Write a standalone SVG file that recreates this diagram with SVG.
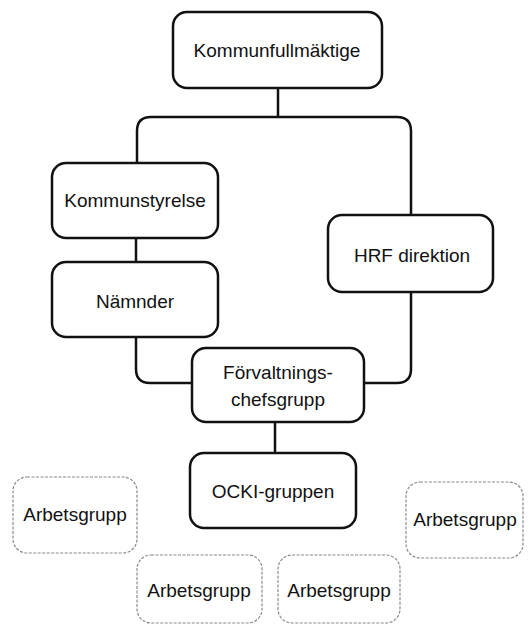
<svg xmlns="http://www.w3.org/2000/svg" width="529" height="627" viewBox="0 0 529 627">
<style>
.n{fill:#fff;stroke:#111;stroke-width:2.5}
.d{fill:#fff;stroke:#8a8a8a;stroke-width:1.2;stroke-dasharray:3 1.5}
.c{fill:none;stroke:#111;stroke-width:2.5}
text{font-family:"Liberation Sans",Arial,sans-serif;font-size:19px;fill:#111;text-anchor:middle}
</style>
<rect width="529" height="627" fill="#fff"/>
<g id="connectors">
<path class="c" d="M278,88 V117"/>
<path class="c" d="M137,163 V131 Q137,117 151,117 H397 Q411,117 411,131 V215"/>
<path class="c" d="M136,238 V262"/>
<path class="c" d="M136,337 V369 Q136,383 150,383 H192"/>
<path class="c" d="M411,292 V369 Q411,383 397,383 H364"/>
<path class="c" d="M275,422 V453"/>
</g>
<g id="kommunfullmaktige">
<rect class="n" x="173" y="12" width="209" height="76" rx="14"/>
<text x="277" y="57">Kommunfullmäktige</text>
</g>
<g id="kommunstyrelse">
<rect class="n" x="52" y="163" width="166" height="75" rx="14"/>
<text x="135" y="207">Kommunstyrelse</text>
</g>
<g id="namnder">
<rect class="n" x="52" y="262" width="166" height="75" rx="14"/>
<text x="135" y="308">Nämnder</text>
</g>
<g id="hrf">
<rect class="n" x="328" y="215" width="165" height="77" rx="14"/>
<text x="412" y="262">HRF direktion</text>
</g>
<g id="forvaltning">
<rect class="n" x="192" y="348" width="172" height="74" rx="14"/>
<text x="278" y="379">Förvaltnings-</text>
<text x="278" y="406">chefsgrupp</text>
</g>
<g id="ocki">
<rect class="n" x="190" y="453" width="166" height="75" rx="14"/>
<text x="273" y="498">OCKI-gruppen</text>
</g>
<g id="arbetsgrupp1">
<rect class="d" x="13" y="477" width="124" height="76" rx="14"/>
<text x="75" y="521">Arbetsgrupp</text>
</g>
<g id="arbetsgrupp2">
<rect class="d" x="137" y="555" width="125" height="68" rx="14"/>
<text x="199" y="597">Arbetsgrupp</text>
</g>
<g id="arbetsgrupp3">
<rect class="d" x="278" y="555" width="122" height="68" rx="14"/>
<text x="339" y="597">Arbetsgrupp</text>
</g>
<g id="arbetsgrupp4">
<rect class="d" x="406" y="482" width="117" height="76" rx="14"/>
<text x="465" y="526">Arbetsgrupp</text>
</g>
</svg>
